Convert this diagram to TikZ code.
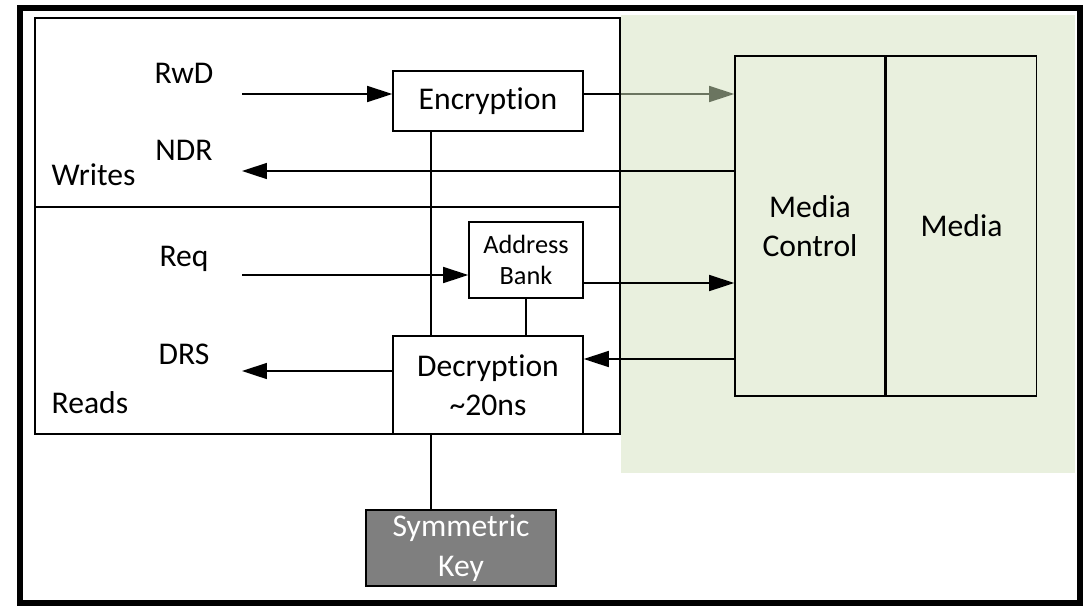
\documentclass[tikz,border=0pt]{standalone}
\usepackage{fontspec}
\setmainfont{Carlito}[Ligatures=NoCommon]
\usetikzlibrary{arrows.meta, positioning}
\definecolor{mediagreen}{HTML}{E9F0DE}
\definecolor{linkgray}{HTML}{6B7560}
\definecolor{keygray}{HTML}{7F7F7F}

\begin{document}
\begin{tikzpicture}[
    x=0.02cm, y=-0.02cm,
    line width=0.9pt,
    every node/.style={font=\fontsize{18}{22.5}\selectfont},
    box/.style={rectangle, draw, minimum width=3.8cm, minimum height=1.2cm, align=center, inner sep=0pt},
    smallbox/.style={rectangle, draw, minimum width=2.28cm, minimum height=1.52cm, align=center, inner sep=0pt, font=\fontsize{15}{17.6}\selectfont},
    mediabox/.style={rectangle, draw, minimum width=3cm, minimum height=6.8cm, align=center, inner sep=0pt},
    lbl/.style={anchor=base},
    arr/.style={-{Triangle[length=0.5cm, width=0.32cm]}}
]
\useasboundingbox (0,0) rectangle (1092,606);

% Background areas
\fill[mediagreen] (621,15) rectangle (1075,473);
\draw[line width=0.13cm] (20,8) rectangle (1080,603);
\draw (35,18) rectangle (620,207);
\draw (35,207) rectangle (620,434);

% Blocks
\node[box] (enc) at (488,101) {Encryption};
\node[smallbox] (ab) at (526,260) {Address\\Bank};
\node[box, minimum height=1.96cm] (dec) at (488,385) {Decryption\\\textasciitilde20ns};
\node[box, fill=keygray, text=white, minimum height=1.52cm] (key) at (461,548) {Symmetric\\Key};
\node[mediabox] (mc) at (810,226) {Media\\Control};
\node[mediabox, right=0pt of mc] (media) {Media};

% Labels
\node[lbl] (rwd) at (184,83) {RwD};
\node[lbl] (ndr) at (184,160) {NDR};
\node[lbl] (req) at (184,266) {Req};
\node[lbl] (drs) at (184,364) {DRS};
\node[lbl, anchor=base west] (writes) at (45,185) {Writes};
\node[lbl, anchor=base west] (reads) at (45,413) {Reads};

% Free ends
\coordinate (rwdin) at (242,94);
\coordinate (ndrout) at (242,171);
\coordinate (reqin) at (242,275);
\coordinate (drsout) at (242,371);
\coordinate (greenedge) at (621,94);
\coordinate (keyx) at (431,0);
\coordinate (abo) at (0,283);
\coordinate (deci) at (0,359);

% Arrows
\draw[arr] (rwdin) -- (rwdin -| enc.west);
\draw (enc.east |- rwdin) -- (greenedge);
\draw[arr, linkgray] (greenedge) -- (greenedge -| mc.west);
\draw[arr] (ndrout -| mc.west) -- (ndrout);
\draw[arr] (reqin) -- (reqin -| ab.west);
\draw[arr] (ab.east |- abo) -- (mc.west |- abo);
\draw[arr] (mc.west |- deci) -- (dec.east |- deci);
\draw[arr] (dec.west |- drsout) -- (drsout);
\draw (enc.south -| keyx) -- (dec.north -| keyx);
\draw (ab.south) -- (dec.north -| ab.south);
\draw (dec.south -| keyx) -- (key.north -| keyx);

\end{tikzpicture}
\end{document}
